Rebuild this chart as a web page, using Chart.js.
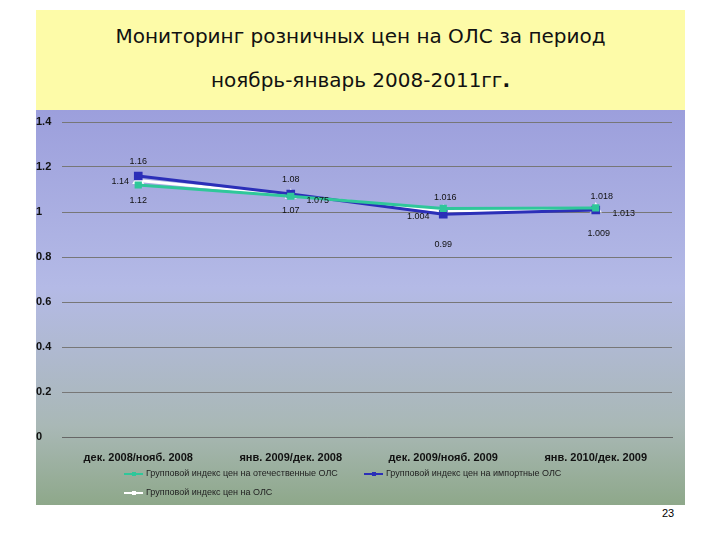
<!DOCTYPE html>
<html><head><meta charset="utf-8">
<script src="https://cdn.jsdelivr.net/npm/chart.js@4"></script>
<style>
body{margin:0;width:720px;height:540px;background:#fff;position:relative;overflow:hidden;font-family:"DejaVu Sans",sans-serif}
#title{position:absolute;left:36px;top:10px;width:649px;height:100px;background:#fdfba8}
#t1{position:absolute;left:0;width:649px;top:14px;text-align:center;font-size:20px;color:#111}
#t2{position:absolute;left:0;width:649px;top:58px;text-align:center;font-size:20px;color:#111}
#wrap{position:absolute;left:36px;top:110px;width:649px;height:395px}
#pg{position:absolute;left:662px;top:507px;font-size:11px;font-family:"Liberation Sans"}
</style></head><body>
<div id="title"><div id="t1">Мониторинг розничных цен на ОЛС за период</div><div id="t2">ноябрь-январь 2008-2011гг<b>.</b></div></div>
<div id="wrap"><canvas id="c" width="649" height="395"></canvas></div>
<div id="pg">23</div>
<script>
const categories=["дек. 2008/нояб. 2008","янв. 2009/дек. 2008","дек. 2009/нояб. 2009","янв. 2010/дек. 2009"];
const domestic=[1.12,1.07,1.016,1.018];
const imported=[1.16,1.08,0.99,1.009];
const overall=[1.14,1.075,1.004,1.013];
const names=["Групповой индекс цен на отечественные ОЛС","Групповой индекс цен на импортные ОЛС","Групповой индекс цен на ОЛС"];
const labelOffsets=[[[0,16],[0,14],[2,-11],[6,-11]],[[0,-14],[0,-14],[0,30],[3,24]],[[-18,1],[27,5],[-25,5],[28,4]]];
const bg={id:'bg',beforeDraw(ch){const c=ch.ctx;const g=c.createLinearGradient(0,0,0,395);g.addColorStop(0,'#9c9fdc');g.addColorStop(0.45,'#b4bae6');g.addColorStop(0.8,'#a9b8b6');g.addColorStop(1,'#8ea88a');c.fillStyle=g;c.fillRect(0,0,649,395);}};
const lab={id:'lab',afterDatasetsDraw(ch){const c=ch.ctx;c.save();c.font='9px "Liberation Sans"';c.fillStyle='#111';c.textAlign='center';c.textBaseline='middle';
ch.data.datasets.forEach((d,i)=>{ch.getDatasetMeta(i).data.forEach((p,j)=>{const o=labelOffsets[i][j];c.fillText(String(d.data[j]),p.x+o[0],p.y+o[1]);});});
const items=[[110,364,0],[350,364,1],[110,383,2]];
items.forEach(([x,y,i])=>{const d=ch.data.datasets[i];c.strokeStyle=d.borderColor;c.lineWidth=2;c.beginPath();c.moveTo(x-22,y);c.lineTo(x-3,y);c.stroke();c.fillStyle=d.borderColor;c.fillRect(x-14,y-2,4,4);c.fillStyle='#222';c.textAlign='left';c.fillText(names[i],x,y);});
c.restore();}};
new Chart(document.getElementById('c'),{type:'line',
data:{labels:categories,datasets:[
{label:names[0],data:domestic,borderColor:'#2fc79a',backgroundColor:'#2fc79a',borderWidth:3,pointStyle:'rect',pointRadius:3},
{label:names[1],data:imported,borderColor:'#2b2fb8',backgroundColor:'#2b2fb8',borderWidth:3,pointStyle:'rect',pointRadius:4},
{label:names[2],data:overall,borderColor:'#ffffff',backgroundColor:'#ffffff',borderWidth:3,pointStyle:'triangle',pointRadius:4}]},
options:{responsive:false,animation:false,layout:{padding:{left:0,right:13,top:12,bottom:0}},
plugins:{legend:{display:false},tooltip:{enabled:false}},
scales:{y:{min:0,max:1.4,ticks:{stepSize:0.2,color:'#111',callback:v=>String(Math.round(v*10)/10),font:{size:11,weight:'bold',family:'Liberation Sans'},crossAlign:'far',padding:4},grid:{color:'#777',drawTicks:false},border:{display:false},afterFit(a){a.width=26;}},
x:{offset:true,ticks:{color:'#111',font:{size:11,weight:'bold',family:'Liberation Sans'},maxRotation:0,padding:6},grid:{display:false,offset:true},border:{color:'#666'},afterFit(a){a.height=68;}}}},
plugins:[bg,lab]});
</script></body></html>
